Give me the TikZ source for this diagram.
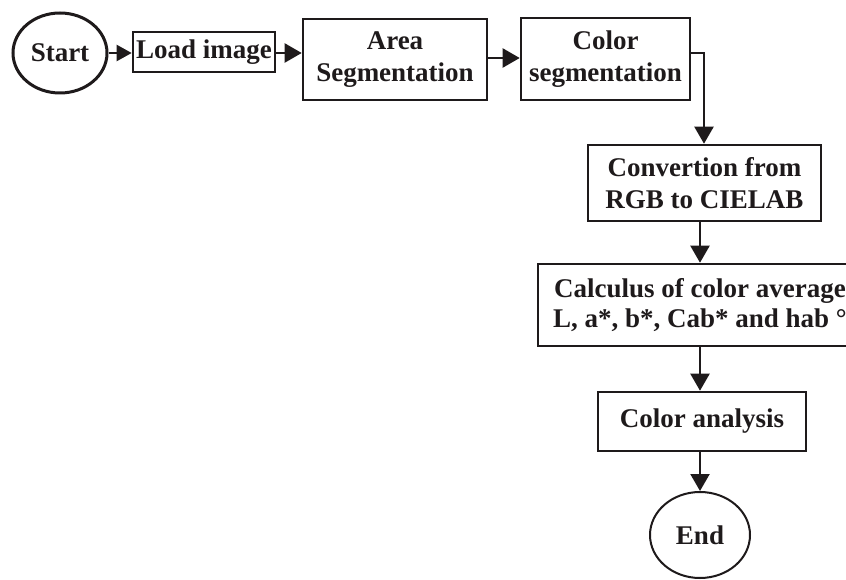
\documentclass[tikz,border=0pt]{standalone}
\usepackage{fontspec}
\setmainfont{Liberation Serif}
\usetikzlibrary{arrows.meta,shapes.geometric}
\definecolor{ink}{HTML}{1E1A1B}
\begin{document}
\begin{tikzpicture}[x=1pt,y=-1pt,
  box/.style={draw=ink,line width=2.6pt,rectangle,inner sep=0pt,align=center,text=ink,
    font=\fontsize{27}{32}\selectfont\bfseries},
  oval/.style={draw=ink,ellipse,inner sep=0pt,text=ink,
    font=\fontsize{27}{32}\selectfont\bfseries},
  conn/.style={draw=ink,line width=2.2pt,-{Triangle[length=17pt,width=19pt]}}]
\useasboundingbox (0,0) rectangle (846,580);
\clip (0,0) rectangle (846,580);
\node[oval,line width=3pt,minimum width=94pt,minimum height=80pt] (start) at (60,53) {Start};
\node[box,minimum width=142pt,minimum height=40pt] (load) at (204,52) {Load image};
\node[box,minimum width=184pt,minimum height=81pt] (area) at (395,59.5) {Area\\Segmentation};
\node[box,minimum width=169pt,minimum height=82pt] (color) at (605.5,59) {Color\\segmentation};
\node[box,minimum width=233pt,minimum height=76pt] (conv) at (704.5,183) {Convertion from\\RGB to CIELAB};
\node[box,minimum width=324pt,minimum height=82pt,font=\fontsize{27}{30}\selectfont\bfseries] (calc) at (700,305) {Calculus of color average\\L, a*, b*, Cab* and hab °};
\node[box,minimum width=208pt,minimum height=59pt] (anal) at (702,421.5) {Color analysis};
\node[oval,line width=2pt,minimum width=100pt,minimum height=86pt] (end) at (700,535) {End};
\coordinate (bend) at (704,53);
\draw[conn,-{Triangle[length=15pt,width=16pt]}] (start.east |- 0,53) -- (load.west |- 0,53);
\draw[conn] (load.east |- 0,53) -- (area.west |- 0,53);
\draw[conn] (area.east |- 0,58) -- (color.west |- 0,58);
\draw[conn] (color.east |- bend) -- (bend) -- (bend |- conv.north);
\draw[conn] (calc.north |- conv.south) -- (calc.north);
\draw[conn] (calc.south) -- (calc.south |- anal.north);
\draw[conn] (anal.south -| end.north) -- (end.north);
\end{tikzpicture}
\end{document}
